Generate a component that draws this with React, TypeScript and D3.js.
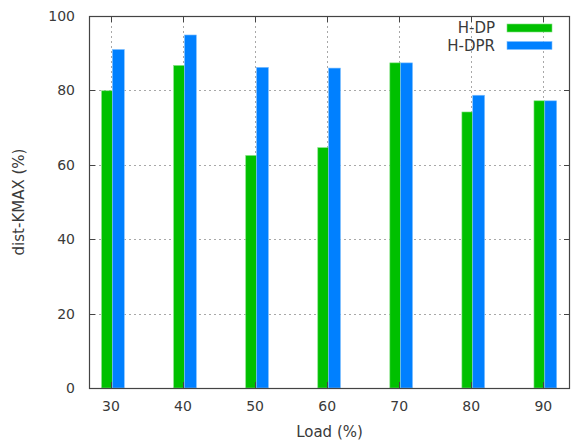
import React, { useRef, useEffect } from 'react';
import * as d3 from 'd3';

const loads = [30, 40, 50, 60, 70, 80, 90];
const hdp = [79.9, 86.7, 62.5, 64.6, 87.4, 74.2, 77.2];
const hdpr = [91.0, 94.9, 86.2, 86.0, 87.4, 78.7, 77.2];
const yTicks = [0, 20, 40, 60, 80, 100];
const seriesNames = ['H-DP', 'H-DPR'];
const seriesColors = ['#00c000', '#0080ff'];

export default function App() {
  const svgRef = useRef<SVGSVGElement>(null);

  useEffect(() => {
    const svg = d3.select(svgRef.current);
    svg.selectAll('*').remove();

    const width = 571;
    const height = 443;
    const margin = { top: 16, right: 1, bottom: 55, left: 89 };
    const font = '"DejaVu Sans", sans-serif';
    const textColor = '#3a3a3a';
    const axisColor = '#444';

    svg.attr('width', width).attr('height', height);

    const x = d3.scaleLinear().domain([26.95, 93.7]).range([margin.left, width - margin.right]);
    const y = d3.scaleLinear().domain([0, 100]).range([height - margin.bottom, margin.top]);

    const x0 = margin.left, x1 = width - margin.right;
    const y0 = height - margin.bottom, y1 = margin.top;

    // grid
    const grid = svg.append('g')
      .attr('stroke', '#a8a8a8')
      .attr('stroke-width', 1)
      .attr('stroke-dasharray', '2,3');
    yTicks.filter(t => t > 0 && t < 100).forEach(t => {
      grid.append('line')
        .attr('x1', x0).attr('x2', x1)
        .attr('y1', Math.round(y(t)) + 0.5).attr('y2', Math.round(y(t)) + 0.5);
    });
    loads.forEach(l => {
      grid.append('line')
        .attr('x1', Math.round(x(l)) + 0.5).attr('x2', Math.round(x(l)) + 0.5)
        .attr('y1', y1).attr('y2', y0);
    });

    // bars
    const series = [hdp, hdpr];
    const offsets = [[-1.3, 0.2], [0.2, 1.85]];
    series.forEach((vals, si) => {
      svg.append('g')
        .selectAll('rect')
        .data(loads)
        .enter()
        .append('rect')
        .attr('x', d => x(d + offsets[si][0]))
        .attr('width', d => x(d + offsets[si][1]) - x(d + offsets[si][0]))
        .attr('y', (d, i) => y(vals[i]))
        .attr('height', (d, i) => y(0) - y(vals[i]))
        .attr('fill', seriesColors[si])
        .attr('stroke', si === 0 ? '#7ee07e' : '#80c0ff')
        .attr('stroke-width', 0.6);
    });

    // border
    svg.append('rect')
      .attr('x', x0 + 0.5).attr('y', y1 + 0.5)
      .attr('width', x1 - x0 - 1).attr('height', y0 - y1)
      .attr('fill', 'none')
      .attr('stroke', axisColor)
      .attr('stroke-width', 1.2);

    // tick marks
    const ticks = svg.append('g').attr('stroke', axisColor).attr('stroke-width', 1);
    yTicks.forEach(t => {
      const yy = Math.round(y(t)) + 0.5;
      ticks.append('line').attr('x1', x0).attr('x2', x0 + 6).attr('y1', yy).attr('y2', yy);
      ticks.append('line').attr('x1', x1 - 6).attr('x2', x1).attr('y1', yy).attr('y2', yy);
    });
    loads.forEach(l => {
      const xx = Math.round(x(l)) + 0.5;
      ticks.append('line').attr('x1', xx).attr('x2', xx).attr('y1', y0).attr('y2', y0 - 6);
      ticks.append('line').attr('x1', xx).attr('x2', xx).attr('y1', y1).attr('y2', y1 + 6);
    });

    // tick labels
    svg.append('g')
      .selectAll('text')
      .data(yTicks)
      .enter()
      .append('text')
      .attr('x', 75)
      .attr('y', d => y(d) + 5)
      .attr('text-anchor', 'end')
      .attr('font-family', font)
      .attr('font-size', '14px')
      .attr('fill', textColor)
      .text(d => d);

    svg.append('g')
      .selectAll('text')
      .data(loads)
      .enter()
      .append('text')
      .attr('x', d => x(d))
      .attr('y', 411)
      .attr('text-anchor', 'middle')
      .attr('font-family', font)
      .attr('font-size', '14px')
      .attr('fill', textColor)
      .text(d => d);

    // axis titles
    svg.append('text')
      .attr('x', (x0 + x1) / 2)
      .attr('y', 437)
      .attr('text-anchor', 'middle')
      .attr('font-family', font)
      .attr('font-size', '15px')
      .attr('fill', textColor)
      .text('Load (%)');

    svg.append('text')
      .attr('transform', `translate(24, ${(y0 + y1) / 2}) rotate(-90)`)
      .attr('text-anchor', 'middle')
      .attr('font-family', font)
      .attr('font-size', '15px')
      .attr('fill', textColor)
      .text('dist-KMAX (%)');

    // legend
    seriesNames.forEach((name, i) => {
      const cy = 28 + i * 17.5;
      svg.append('text')
        .attr('x', 495)
        .attr('y', cy + 5)
        .attr('text-anchor', 'end')
        .attr('font-family', font)
        .attr('font-size', '15px')
        .attr('fill', textColor)
        .text(name);
      svg.append('rect')
        .attr('x', 507)
        .attr('y', cy - 4)
        .attr('width', 45)
        .attr('height', 8)
        .attr('fill', seriesColors[i])
        .attr('stroke', i === 0 ? '#7ee07e' : '#80c0ff')
        .attr('stroke-width', 0.6);
    });
  }, []);

  return <svg ref={svgRef} style={{ position: 'absolute', left: 0, top: 0 }}></svg>;
}
